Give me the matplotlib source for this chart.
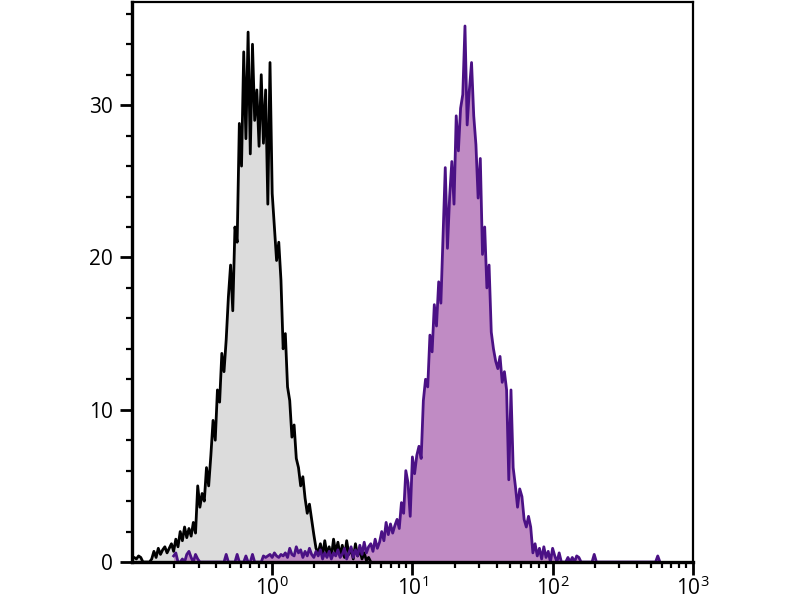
"""Flow cytometry overlay: isotype control (grey) vs stained sample (purple)."""

import matplotlib
matplotlib.use("Agg")
import matplotlib.pyplot as plt
import numpy as np
from matplotlib.ticker import LogLocator, MultipleLocator, FixedLocator

plt.rcParams["font.family"] = ["Open Sans", "DejaVu Sans"]
plt.rcParams["mathtext.fontset"] = "custom"
plt.rcParams["mathtext.rm"] = "Open Sans"
plt.rcParams["mathtext.default"] = "regular"

# log-scale channels: 64 channels per decade, channel 0 = 10^0
CH_PER_DECADE = 64

# isotype control, starts at channel -64 (10^-1)
control_start = -64
control_counts = [
    0.3, 0.3, 0.2, 0.4, 0.3, 0.0, 0.0, 0.0, 0.0, 0.2,
    0.7, 0.3, 0.9, 0.5, 0.8, 1.0, 0.6, 0.9, 1.2, 0.7,
    1.5, 1.0, 2.0, 1.4, 2.3, 1.6, 2.2, 1.7, 2.6, 1.9,
    5.0, 3.6, 4.5, 4.0, 6.2, 5.0, 7.0, 9.3, 8.0, 11.3,
    10.5, 13.7, 12.5, 14.6, 17.4, 19.5, 16.5, 22.0, 21.0, 28.8,
    26.0, 33.5, 27.8, 34.8, 26.8, 34.0, 29.0, 31.0, 27.3, 32.0,
    27.5, 31.0, 23.5, 32.8, 24.2, 22.0, 19.8, 21.0, 18.5, 14.0,
    15.0, 11.5, 10.6, 8.2, 9.0, 6.8, 6.2, 5.0, 5.6, 4.2,
    3.2, 3.8, 2.8, 1.8, 0.9, 0.6, 1.2, 0.4, 1.4, 0.5,
    1.0, 0.3, 1.5, 0.6, 1.3, 0.4, 1.1, 0.3, 1.4, 0.5,
    0.9, 0.2, 1.2, 0.4, 0.8, 0.2, 0.6, 0.1, 0.3, 0.0,
]

# stained sample, starts at channel -45
stained_start = -45
stained_counts = [
    0.4, 0.6, 0, 0, 0.2, 0, 0.5, 0.7, 0.3, 0,
    0.5, 0.2, 0, 0, 0, 0, 0, 0, 0, 0,
    0, 0, 0, 0, 0.5, 0, 0, 0, 0, 0.5,
    0, 0, 0, 0.4, 0, 0, 0.5, 0, 0, 0,
    0, 0.4, 0.3, 0.4, 0.5, 0.3, 0.6, 0.4, 0.3, 0.5,
    0.4, 0.6, 0.3, 0.9, 0.5, 0.4, 1.0, 0.6, 0.8, 0.3,
    0.7, 0.4, 0.9, 0.5, 0.3, 0.7, 0.4, 0.8, 0.2, 0.6,
    0.3, 0.7, 0.2, 0.6, 0.4, 0.8, 0.3, 0.5, 0.9, 0.2,
    0.6, 1.0, 0.3, 0.8, 0.4, 1.1, 0.5, 1.3, 0.6, 1.0,
    1.2, 0.7, 1.5, 0.9, 1.3, 2.0, 1.4, 2.6, 1.8, 2.5,
    1.9, 2.4, 2.8, 2.2, 3.9, 3.2, 6.0, 5.2, 3.0, 6.9,
    5.8, 7.0, 7.6, 6.8, 10.6, 12.0, 11.5, 14.9, 13.8, 16.9,
    15.5, 18.4, 17.0, 21.5, 25.9, 20.6, 24.0, 26.3, 23.5, 29.3,
    27.0, 29.8, 30.7, 35.2, 28.7, 31.0, 32.8, 29.3, 27.4, 23.9,
    26.5, 20.2, 22.0, 18.0, 19.5, 15.1, 14.0, 13.2, 12.7, 13.5,
    11.8, 12.5, 11.3, 5.4, 11.3, 6.2, 5.0, 3.6, 4.8, 4.3,
    2.8, 2.3, 3.0, 2.3, 0.6, 1.2, 0.4, 0.9, 0.2, 1.0,
    0.3, 0.7, 0, 0.9, 0.4, 0, 0.6, 0, 0, 0,
    0.3, 0, 0.3, 0, 0.4, 0.3, 0, 0, 0, 0,
    0, 0, 0.5, 0, 0, 0, 0, 0, 0, 0,
    0, 0, 0, 0, 0, 0, 0, 0, 0, 0,
    0, 0, 0, 0, 0, 0, 0, 0, 0, 0,
    0, 0.4, 0,
]

y_ticks = [0, 10, 20, 30]
x_ticks = [1, 10, 100, 1000]
x_labels = ["$10^0$", "$10^1$", "$10^2$", "$10^3$"]


def channel_x(start, counts):
    ch = np.arange(start, start + len(counts))
    return 10.0 ** (ch / CH_PER_DECADE)


fig = plt.figure(figsize=(8, 6), dpi=100)
ax = fig.add_axes([0.165, 0.0633, 0.701, 0.934])

xc = channel_x(control_start, control_counts)
xs = channel_x(stained_start, stained_counts)

ax.fill_between(xc, control_counts, color="#dcdcdc", lw=0)
ax.plot(xc, control_counts, color="black", lw=2.0)
ax.fill_between(xs, stained_counts, color="#c08bc4", lw=0)
ax.plot(xs, stained_counts, color="#4b1185", lw=2.0)

ax.set_xscale("log")
ax.set_xlim(0.1, 1000)
ax.set_ylim(0, 36.8)

ax.xaxis.set_major_locator(FixedLocator(x_ticks))
ax.set_xticklabels(x_labels)
ax.xaxis.set_minor_locator(LogLocator(base=10, subs=np.arange(2, 10)))
ax.xaxis.set_minor_formatter(plt.NullFormatter())
ax.set_yticks(y_ticks)
ax.yaxis.set_minor_locator(MultipleLocator(2))

ax.tick_params(which="major", length=9, width=2, labelsize=15, color="black")
ax.tick_params(which="minor", length=4, width=1.6, color="black")
ax.tick_params(axis="x", which="major", pad=1)
ax.tick_params(axis="y", which="major", pad=5)

for side in ["left", "bottom"]:
    ax.spines[side].set_linewidth(2.4)
for side in ["right", "top"]:
    ax.spines[side].set_linewidth(1.6)

fig.savefig("out.png", dpi=100)
